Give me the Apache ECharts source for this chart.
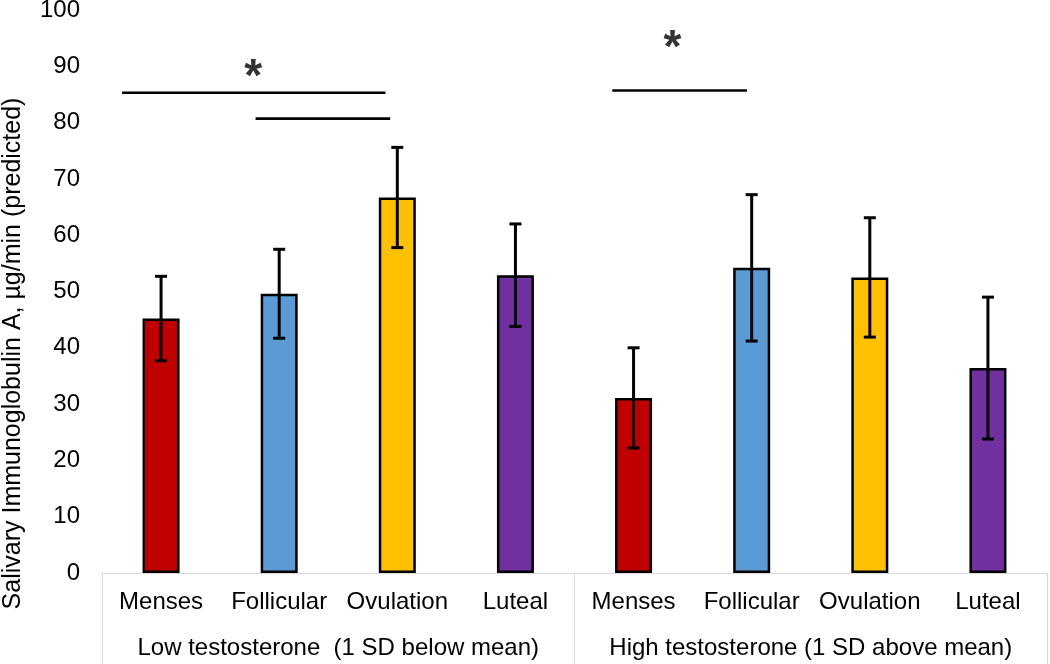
<!DOCTYPE html>
<html>
<head>
<meta charset="utf-8">
<script src="https://cdn.jsdelivr.net/npm/echarts@6/dist/echarts.min.js"></script>
<style>
html,body{margin:0;padding:0;background:#fff;}
#chart{width:1050px;height:664px;}
</style>
</head>
<body>
<div id="chart"></div>
<script>
// ---- data ----
var phases = ['Menses', 'Follicular', 'Ovulation', 'Luteal'];
var groups = ['Low testosterone  (1 SD below mean)', 'High testosterone (1 SD above mean)'];
var lowMeans = [45.2, 49.6, 66.7, 52.9];
var lowErr = [7.5, 7.9, 8.9, 9.1];
var highMeans = [31.1, 54.2, 52.5, 36.4];
var highErr = [8.9, 13.0, 10.6, 12.6];
var yTicks = [0, 10, 20, 30, 40, 50, 60, 70, 80, 90, 100];
// significance brackets: [x, y] in category-band units (0..8) / y units
var sigLine1 = [[0.17, 85.3], [2.40, 85.3]];
var sigLine2 = [[1.30, 80.7], [2.44, 80.7]];
var sigLine3 = [[4.32, 85.7], [5.46, 85.7]];
var sigStars = [[1.28, 89.6], [4.83, 94.8]];

// ---- build ----
var phaseColors = ['#C00000', '#5B9BD5', '#FFC000', '#7030A0'];
var categories = phases.concat(phases);
var means = lowMeans.concat(highMeans);
var errs = lowErr.concat(highErr);
var barData = means.map(function (v, i) {
  return { value: v, itemStyle: { color: phaseColors[i % 4] } };
});
var errData = means.map(function (v, i) { return [i, v - errs[i], v + errs[i]]; });

var chart = echarts.init(document.getElementById('chart'), null, { renderer: 'canvas' });
var FONT = 'Liberation Sans, Arial, sans-serif';

function sigSeries(d) {
  return {
    type: 'line', xAxisIndex: 2, yAxisIndex: 0, data: d, symbol: 'none', silent: true,
    lineStyle: { color: '#000', width: 2.6 }, z: 5
  };
}

chart.setOption({
  animation: false,
  backgroundColor: '#fff',
  grid: { left: 102, right: 3, top: 10, bottom: 91, containLabel: false, outerBoundsMode: 'none' },
  xAxis: [
    {
      type: 'category', data: categories, position: 'bottom',
      axisLine: { show: true, lineStyle: { color: '#d9d9d9', width: 1 } },
      axisTick: { show: false },
      axisLabel: { interval: 0, margin: 17, fontSize: 24, lineHeight: 24, color: '#000', fontFamily: FONT },
      splitLine: { show: false }
    },
    {
      type: 'category', data: groups, position: 'bottom',
      axisLine: { show: false },
      axisTick: { show: true, length: 92, lineStyle: { color: '#d9d9d9', width: 1 } },
      axisLabel: { interval: 0, margin: 63, fontSize: 24, lineHeight: 24, color: '#000', fontFamily: FONT },
      splitLine: { show: false }
    },
    { type: 'value', min: 0, max: 8, show: false, position: 'bottom' }
  ],
  yAxis: {
    type: 'value', min: 0, max: 100, interval: 10,
    axisLine: { show: false }, axisTick: { show: false }, splitLine: { show: false },
    axisLabel: { margin: 22, fontSize: 24, color: '#000', fontFamily: FONT,
      formatter: function (v) { return yTicks.indexOf(v) >= 0 ? String(v) : ''; } },
    name: 'Salivary Immunoglobulin A, \u00b5g/min (predicted)',
    nameLocation: 'middle', nameRotate: 90, nameGap: 76,
    nameTextStyle: { fontSize: 25, color: '#000', fontFamily: FONT, padding: [0, 124, 0, 0] }
  },
  series: [
    {
      type: 'bar', data: barData, barWidth: 37, xAxisIndex: 0,
      itemStyle: { borderColor: '#000', borderWidth: 2.5 }, z: 2
    },
    {
      type: 'custom', xAxisIndex: 0, data: errData, z: 4,
      renderItem: function (params, api) {
        var x = api.value(0);
        var lo = api.coord([x, api.value(1)]);
        var hi = api.coord([x, api.value(2)]);
        var hw = 6;
        var st = { stroke: '#000', lineWidth: 3 };
        return {
          type: 'group', children: [
            { type: 'line', shape: { x1: hi[0], y1: hi[1], x2: lo[0], y2: lo[1] }, style: st },
            { type: 'line', shape: { x1: hi[0] - hw, y1: hi[1], x2: hi[0] + hw, y2: hi[1] }, style: st },
            { type: 'line', shape: { x1: lo[0] - hw, y1: lo[1], x2: lo[0] + hw, y2: lo[1] }, style: st }
          ]
        };
      }
    },
    sigSeries(sigLine1),
    sigSeries(sigLine2),
    sigSeries(sigLine3),
    {
      type: 'scatter', xAxisIndex: 2, data: sigStars, symbolSize: 2, itemStyle: { color: 'rgba(0,0,0,0)' },
      label: { show: true, position: 'inside', formatter: '*', fontSize: 46, fontWeight: 'bold', color: '#000',
        fontFamily: FONT, offset: [0, 10] }, z: 6, silent: true
    }
  ]
});
</script>
</body>
</html>
